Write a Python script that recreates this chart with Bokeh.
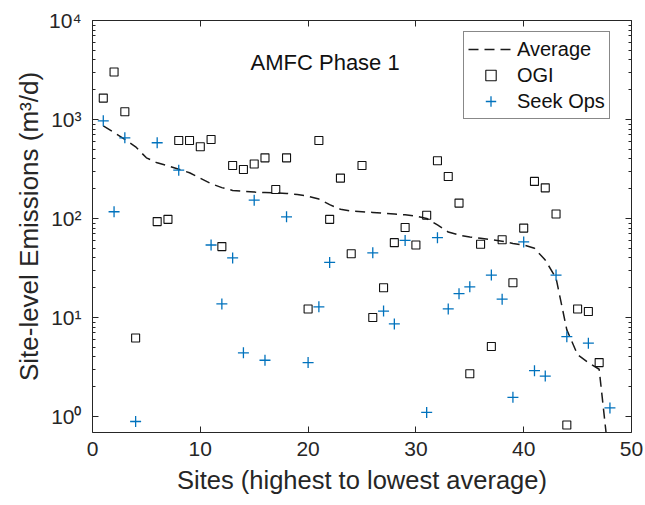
import math
from bokeh.plotting import figure
from bokeh.models import (ColumnDataSource, Range1d, FixedTicker, LinearAxis,
                          LogAxis, Legend, LegendItem, Label)
from bokeh.embed import file_html
from bokeh.resources import INLINE

nan = float("nan")

# ---------------- data ----------------
sites = list(range(1, 49))
average = [860, 740, 630, 530, 410, 365, 340, 315, 290, 255,
           225, 205, 192, 188, 185, 183, 181, 179, 175, 168,
           157, 138, 124, 119, 117, 115, 113, 111, 109, 106,
           100, 86, 73, 68, 65, 63, 61, 59, 56, 54,
           50, 38, 25, 7.5, 4.2, 3.5, 3.0, 0.3]
ogi = [1644, 3020, 1196, 6.2, nan, 93, 98, 614, 614, 530,
       628, 52, 343, 313, 355, 410, 196, 410, nan, 12.2,
       614, 98, 256, 44, 343, 10, 20, 57, 81, 54,
       108, 383, 266, 143, 2.7, 55, 5.1, 61, 22.4, 80,
       237, 204, 111, 0.82, 12.2, 11.5, 3.5, nan]
seek_ops = [970, 117, 653, 0.89, nan, 582, nan, 308, nan, nan,
            54, 13.7, 40, 4.4, 153, 3.7, nan, 104, nan, 3.5,
            12.8, 36, nan, nan, nan, 45, 11.6, 8.6, 60, nan,
            1.1, 64, 12.2, 17.4, 20.4, nan, 26.8, 15.3, 1.56, 58,
            2.9, 2.56, 26.8, 6.4, nan, 5.5, nan, 1.22]

x_ticks = [0, 10, 20, 30, 40, 50]
y_ticks = [1, 10, 100, 1000, 10000]
y_tick_labels = ["10\u2070", "10\u00b9", "10\u00b2", "10\u00b3", "10\u2074"]

x_label = "Sites (highest to lowest average)"
y_label = "Site-level Emissions (m\u00b3/d)"
panel_title = "AMFC Phase 1"

FONT = "Liberation Sans"
AX = "#262626"
BLUE = "#0072BD"

src = ColumnDataSource(dict(site=sites, avg=average, ogi=ogi, seek=seek_ops))

p = figure(width=645, height=505,
           x_range=Range1d(0, 50), y_range=Range1d(0.689, 10000),
           y_axis_type="log", output_backend="svg", toolbar_location=None,
           min_border_left=92, min_border_right=14,
           min_border_top=20, min_border_bottom=73)
p.grid.visible = False
p.outline_line_color = None
p.background_fill_color = "white"
p.border_fill_color = "white"

minor = [m * 10 ** e for e in range(0, 4) for m in range(2, 10)]


def style(ax, labels=True):
    ax.axis_line_color = AX
    ax.axis_line_width = 1
    ax.major_tick_line_color = AX
    ax.minor_tick_line_color = AX
    ax.major_tick_in = 6
    ax.major_tick_out = 0
    ax.minor_tick_in = 3
    ax.minor_tick_out = 0
    ax.major_label_text_font = FONT
    ax.major_label_text_color = AX
    ax.axis_label_text_font = FONT
    ax.axis_label_text_color = AX
    ax.axis_label_text_font_style = "normal"
    if not labels:
        ax.major_label_text_font_size = "2px"
        ax.major_label_text_color = None
        ax.major_label_standoff = 0


xa = p.xaxis[0]
xa.ticker = FixedTicker(ticks=x_ticks)
style(xa)
xa.minor_tick_line_color = None
xa.major_label_text_font_size = "21px"
xa.major_label_standoff = 9
xa.axis_label = x_label
xa.axis_label_text_font_size = "25.5px"
xa.axis_label_standoff = 7

ya = p.yaxis[0]
ya.ticker = FixedTicker(ticks=y_ticks, minor_ticks=minor)
style(ya)
ya.major_label_overrides = {t: l for t, l in zip(y_ticks, y_tick_labels)}
ya.major_label_text_font_size = "21px"
ya.major_label_standoff = 11
ya.axis_label = y_label
ya.axis_label_text_font_size = "26px"
ya.axis_label_standoff = 2

top = LinearAxis(ticker=FixedTicker(ticks=x_ticks))
style(top, labels=False)
top.minor_tick_line_color = None
p.add_layout(top, "above")

right = LogAxis(ticker=FixedTicker(ticks=y_ticks, minor_ticks=minor))
style(right, labels=False)
p.add_layout(right, "right")

r_avg = p.line("site", "avg", source=src, line_color="#1a1a1a",
               line_width=1.5, line_dash="10 6")
r_ogi = p.scatter("site", "ogi", source=src, marker="square", size=8,
                  fill_color=None, line_color="#111111", line_width=1.1)
r_seek = p.scatter("site", "seek", source=src, marker="cross", size=11,
                   line_color=BLUE, line_width=1.3)

p.add_layout(Label(x=14.66, y=3767, text=panel_title,
                   text_font=FONT, text_font_size="22px",
                   text_color="#111111", text_baseline="alphabetic"))

legend = Legend(items=[LegendItem(label="Average", renderers=[r_avg]),
                       LegendItem(label="OGI", renderers=[r_ogi]),
                       LegendItem(label="Seek Ops", renderers=[r_seek])],
                location=(371, 313), orientation="vertical",
                glyph_width=45, glyph_height=26, label_height=26,
                label_standoff=4, padding=4, spacing=0, margin=0,
                label_text_font=FONT, label_text_font_size="20px",
                label_text_color="#111111",
                border_line_color="#111111", border_line_width=1,
                background_fill_color="white", background_fill_alpha=1)
p.add_layout(legend, "center")

open("out.html", "w").write(file_html(p, INLINE))
